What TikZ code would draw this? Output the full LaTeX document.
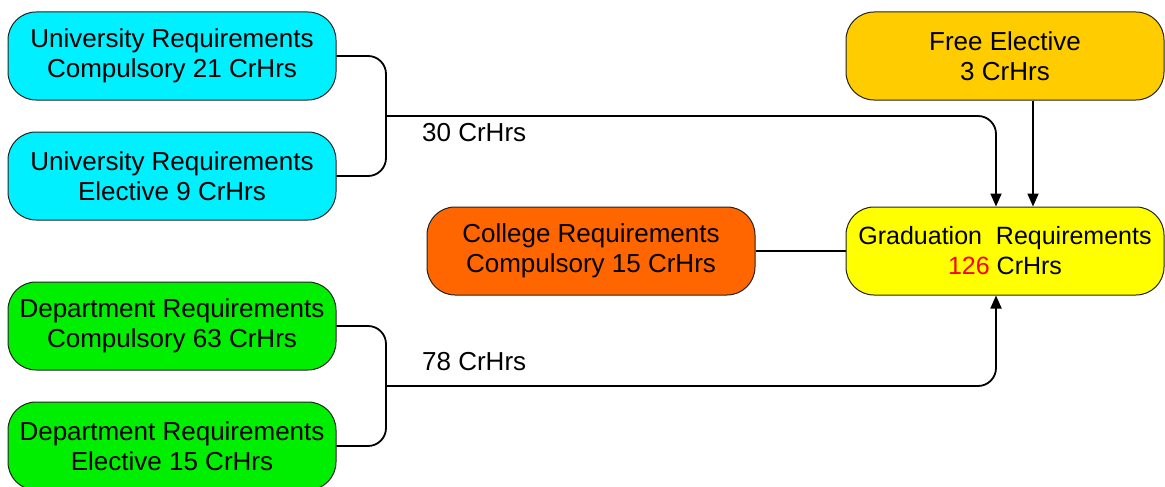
\documentclass[tikz,border=0pt]{standalone}
\usepackage{fontspec}
\setmainfont{Liberation Sans}
\usetikzlibrary{arrows.meta}
\definecolor{ucyan}{HTML}{00F0FF}
\definecolor{dgreen}{HTML}{00EE00}
\definecolor{corange}{HTML}{FF6600}
\definecolor{fgold}{HTML}{FFCC00}
\definecolor{gyellow}{HTML}{FFFF00}
\definecolor{bord}{HTML}{222222}
\begin{document}
\begin{tikzpicture}[x=1pt,y=-1pt,
  box/.style={draw=bord,line width=1pt,rounded corners=28pt,minimum width=328pt,minimum height=88pt,align=center,inner sep=2pt,font=\fontsize{26}{30}\selectfont},
  conn/.style={draw=black,line width=1.8pt,rounded corners=18pt},
  arr/.style={conn,-{Triangle[length=13pt,width=11pt]}},
  lbl/.style={anchor=west,inner sep=0pt,font=\fontsize{26}{30}\selectfont}]
\useasboundingbox (0,0) rectangle (1165,487);
\node[box,fill=ucyan] (u1) at (172,56) {University Requirements\\Compulsory 21 CrHrs};
\node[box,fill=ucyan] (u2) at (172,176) {University Requirements\\Elective 9 CrHrs};
\node[box,fill=dgreen] (d1) at (172,326) {Department Requirements\\Compulsory 63 CrHrs};
\node[box,fill=dgreen] (d2) at (172,446) {Department Requirements\\Elective 15 CrHrs};
\node[box,fill=corange] (col) at (591,251) {College Requirements\\Compulsory 15 CrHrs};
\node[box,fill=fgold,minimum width=318pt] (free) at (1005,56) {Free Elective\\3 CrHrs};
\node[box,fill=gyellow,minimum width=318pt,font=\fontsize{25}{30}\selectfont] (grad) at (1005,251) {Graduation\ \ Requirements\\\textcolor{red}{126} CrHrs};
\coordinate (j1) at (386,116);
\coordinate (j2) at (386,386);
\draw[conn] (u1.east) -| (j1);
\draw[conn] (u2.east) -| (j1);
\draw[arr] (j1) -| ([xshift=-9pt]grad.north);
\draw[arr] ([xshift=28pt]free.south) -- ([xshift=28pt]grad.north);
\draw[conn] (col.east) -- (grad.west);
\draw[conn] (d1.east) -| (j2);
\draw[conn] (d2.east) -| (j2);
\draw[arr] (j2) -| ([xshift=-9pt]grad.south);
\node[lbl] (l30) at (422,133) {30 CrHrs};
\node[lbl] (l78) at (422,362) {78 CrHrs};
\end{tikzpicture}
\end{document}
